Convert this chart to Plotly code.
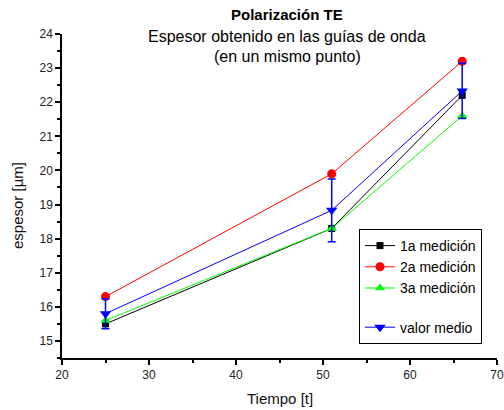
import plotly.graph_objects as go

tiempo = [25, 51, 66]
med1 = [15.5, 18.3, 22.2]
med2 = [16.3, 19.9, 23.2]
med3 = [15.6, 18.3, 21.6]
medio = [15.8, 18.83, 22.33]
err_medio = [0.44, 0.92, 0.81]

FONT = "Liberation Sans, Arial, sans-serif"

fig = go.Figure()
fig.add_trace(go.Scatter(x=tiempo, y=med1, mode="lines+markers", name="1a medición",
                         legendgroup="g1",
                         line=dict(color="black", width=1),
                         marker=dict(symbol="square", size=7, color="black")))
fig.add_trace(go.Scatter(x=tiempo, y=med2, mode="lines+markers", name="2a medición",
                         legendgroup="g1",
                         line=dict(color="red", width=1),
                         marker=dict(symbol="circle", size=9, color="red")))
fig.add_trace(go.Scatter(x=tiempo, y=med3, mode="lines+markers", name="3a medición",
                         legendgroup="g1",
                         line=dict(color="#00ff00", width=1),
                         marker=dict(symbol="triangle-up", size=9, color="#00ff00")))
fig.add_trace(go.Scatter(x=tiempo, y=medio, mode="lines+markers", name="valor medio",
                         legendgroup="g2",
                         line=dict(color="blue", width=1),
                         marker=dict(symbol="triangle-down", size=10, color="blue"),
                         error_y=dict(type="data", array=err_medio, visible=True,
                                      color="blue", thickness=1.5, width=4)))

axis_common = dict(showline=True, linecolor="black", linewidth=1.5, ticks="outside",
                   ticklen=5, tickwidth=1.5, tickcolor="black", showgrid=False,
                   zeroline=False, tickfont=dict(family=FONT, size=12, color="#222"),
                   mirror=False, automargin=False)

PW = 442.0  # paper width in px
PH = 324.0  # paper height in px
fig.update_xaxes(range=[20, 70], dtick=10, tick0=20, domain=[0, 435 / PW],
                 minor=dict(ticks="outside", ticklen=3, dtick=5, tickcolor="black", tickwidth=1.5),
                 **axis_common)
fig.update_yaxes(range=[14.5, 24], dtick=1, tick0=15,
                 minor=dict(ticks="outside", ticklen=3, dtick=0.5, tickcolor="black", tickwidth=1.5),
                 **axis_common)

def px(xp):
    return (xp - 62) / PW

def py(yp):
    return (358 - yp) / PH

for txt, ypix, sz in [("<b>Polarización TE</b>", 15, 15),
                      ("Espesor obtenido en las guías de onda", 36, 16),
                      ("(en un mismo punto)", 57, 16)]:
    fig.add_annotation(text=txt, x=px(287), y=py(ypix), xref="paper", yref="paper",
                       xanchor="center", yanchor="middle", showarrow=False,
                       font=dict(family=FONT, size=sz, color="black"))

fig.add_annotation(text="Tiempo [t]", x=px(280), y=py(398), xref="paper", yref="paper",
                   xanchor="center", yanchor="middle", showarrow=False,
                   font=dict(family=FONT, size=15, color="#111"))
fig.add_annotation(text="espesor [µm]", x=px(17), y=py(206), xref="paper", yref="paper",
                   xanchor="center", yanchor="middle", showarrow=False, textangle=-90,
                   font=dict(family=FONT, size=15, color="#111"))

fig.update_layout(
    width=504, height=410,
    margin=dict(l=62, r=0, t=34, b=52),
    paper_bgcolor="white", plot_bgcolor="white",
    showlegend=True,
    legend=dict(x=px(359), y=py(229), xanchor="left", yanchor="top",
                bgcolor="white", bordercolor="black", borderwidth=1,
                font=dict(family=FONT, size=14, color="black"),
                itemwidth=30, tracegroupgap=18, traceorder="grouped"),
    font=dict(family=FONT),
)

fig.write_html("out.html")
